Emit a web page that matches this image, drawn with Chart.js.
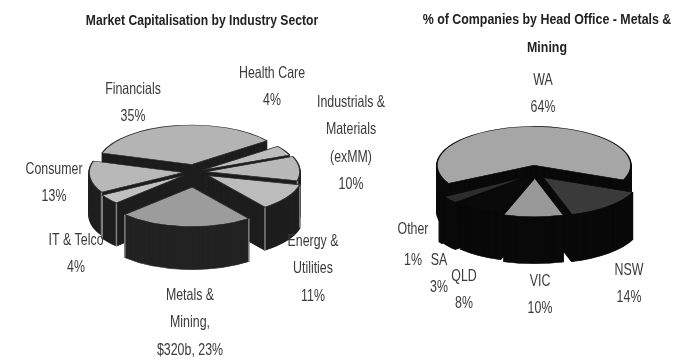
<!DOCTYPE html>
<html>
<head>
<meta charset="utf-8">
<script src="https://cdn.jsdelivr.net/npm/chart.js@4/dist/chart.umd.js"></script>
<style>
  html, body { margin: 0; background: #fff; overflow: hidden; }
  #page { position: relative; width: 677px; height: 362px; filter: blur(0.6px); }
  canvas { position: absolute; top: 0; }
</style>
</head>
<body>
<div id="page">
  <canvas id="sectorChart" width="390" height="362" style="left:0"></canvas>
  <canvas id="officeChart" width="287" height="362" style="left:390px"></canvas>
</div>
<script>
const sectorTitle = ['Market Capitalisation by Industry Sector'];
const sectorNames = [['Financials'], ['Health Care'], ['Industrials &', 'Materials', '(exMM)'], ['Energy &', 'Utilities'], ['Metals &', 'Mining,'], ['IT & Telco'], ['Consumer']];
const sectorShare = [35, 4, 10, 11, 23, 4, 13];
const sectorPrefix = ['', '', '', '', '$320b, ', '', ''];

const officeTitle = ['% of Companies by Head Office - Metals &', 'Mining'];
const officeNames = [['WA'], ['NSW'], ['VIC'], ['QLD'], ['SA'], ['Other']];
const officeShare = [64, 14, 10, 8, 3, 1];
const officePrefix = ['', '', '', '', '', ''];

const labelFont = '16.5px "Liberation Sans", sans-serif';
const titleFont = 'bold 15px "Liberation Sans", sans-serif';

// The reference text is a condensed face, so squeeze it sideways
function squeezedText(ctx, text, x, y, squeeze) {
  ctx.save();
  ctx.translate(x, y);
  ctx.scale(squeeze, 1);
  ctx.fillText(text, 0, 0);
  ctx.restore();
}

// Fakes the tilted 3D pie: each arc is squashed and stacked from the back to the front
function tiltedPie(cfg) {
  return {
    id: 'tiltedPie',
    beforeDatasetDraw(chart) {
      const ctx = chart.ctx;
      const arcs = chart.getDatasetMeta(0).data;
      const midOf = (a) => (a.startAngle + a.endAngle) / 2;
      const order = arcs.map((_, i) => i).sort((a, b) => Math.sin(midOf(arcs[a])) - Math.sin(midOf(arcs[b])));

      const face = (arc, x, y, fill, edge) => {
        const original = arc.options;
        arc.options = Object.create(original);
        arc.options.backgroundColor = fill;
        arc.options.borderColor = edge;
        ctx.save();
        ctx.translate(x, y);
        ctx.scale(1, cfg.tilt);
        ctx.translate(-arc.x, -arc.y);
        arc.draw(ctx);
        ctx.restore();
        arc.options = original;
      };

      order.forEach((i) => {
        const arc = arcs[i];
        const mid = midOf(arc);
        const x = cfg.x + Math.cos(mid) * cfg.explode[i];
        const y = cfg.y + Math.sin(mid) * cfg.explode[i] * cfg.tilt;

        for (let d = cfg.depth; d >= 1; d--) {
          face(arc, x, y + d, cfg.side[i], cfg.side[i]);
        }
        // Lighter corner lines where a slice wall meets the rim
        if (cfg.corner) {
          [arc.startAngle, arc.endAngle].forEach((a) => {
            if (Math.sin(a) < 0.1) return;
            const px = x + Math.cos(a) * arc.outerRadius;
            const py = y + Math.sin(a) * arc.outerRadius * cfg.tilt;
            ctx.strokeStyle = cfg.corner;
            ctx.lineWidth = 1.5;
            ctx.beginPath();
            ctx.moveTo(px, py);
            ctx.lineTo(px, py + cfg.depth);
            ctx.stroke();
          });
        }
        face(arc, x, y, arc.options.backgroundColor, arc.options.borderColor);
      });
      return false;
    },
    afterDraw(chart) {
      const ctx = chart.ctx;
      ctx.save();
      ctx.textAlign = 'center';
      ctx.textBaseline = 'middle';

      ctx.font = titleFont;
      ctx.fillStyle = '#222';
      cfg.title.forEach((text, n) => {
        squeezedText(ctx, text, cfg.titleX, cfg.titleY + n * 28, cfg.titleSqueeze);
      });

      ctx.font = labelFont;
      ctx.fillStyle = '#3a3a3a';
      cfg.names.forEach((name, i) => {
        const spot = cfg.spots[i];
        const lines = [...name, cfg.prefix[i] + cfg.share[i] + '%'];
        lines.forEach((text, n) => {
          squeezedText(ctx, text, spot.x, spot.y + n * (spot.gap || 27.5), 0.75);
        });
      });
      ctx.restore();
    }
  };
}

function makeChart(id, cfg) {
  return new Chart(document.getElementById(id), {
    type: 'pie',
    data: {
      labels: cfg.names.map((n) => n.join(' ')),
      datasets: [{
        data: cfg.share,
        backgroundColor: cfg.top,
        borderColor: cfg.border,
        borderWidth: 1.5
      }]
    },
    options: {
      responsive: false,
      animation: false,
      events: [],
      rotation: cfg.rotation,
      radius: cfg.radius,
      plugins: {
        legend: { display: false },
        tooltip: { enabled: false }
      }
    },
    plugins: [tiltedPie(cfg)]
  });
}

makeChart('sectorChart', {
  title: sectorTitle,
  titleX: 202,
  titleY: 21,
  titleSqueeze: 0.81,
  names: sectorNames,
  share: sectorShare,
  prefix: sectorPrefix,
  rotation: -73,
  radius: 94,
  x: 195,
  y: 172,
  tilt: 0.42,
  depth: 43,
  explode: [18, 9, 11, 16, 36, 14, 12],
  top: ['#b4b4b4', '#bcbcbc', '#b9b9b9', '#bcbcbc', '#9c9c9c', '#c0c0c0', '#b8b8b8'],
  border: '#2a2a2a',
  side: ['#1e1e1e', '#1e1e1e', '#1e1e1e', '#1e1e1e', '#232323', '#1e1e1e', '#1e1e1e'],
  corner: '#808080',
  spots: [
    { x: 133, y: 89 }, { x: 272, y: 73 }, { x: 351, y: 102 }, { x: 313, y: 241 },
    { x: 190, y: 295 }, { x: 76, y: 240 }, { x: 54, y: 169 }
  ]
});

makeChart('officeChart', {
  title: officeTitle,
  titleX: 157,
  titleY: 20,
  titleSqueeze: 0.826,
  names: officeNames,
  share: officeShare,
  prefix: officePrefix,
  rotation: -118,
  radius: 97,
  x: 145,
  y: 174,
  tilt: 0.4,
  depth: 47,
  explode: [22, 12, 10, 6, 10, 12],
  top: ['#a6a6a6', '#3a3a3a', '#999999', '#0a0a0a', '#2c2c2c', '#0a0a0a'],
  border: '#0a0a0a',
  side: ['#0a0a0a', '#0a0a0a', '#0a0a0a', '#0a0a0a', '#0a0a0a', '#0a0a0a'],
  spots: [
    { x: 153, y: 80 }, { x: 239, y: 270 }, { x: 150, y: 281 }, { x: 74, y: 276 },
    { x: 49, y: 260 }, { x: 23, y: 229, gap: 31 }
  ]
});
</script>
</body>
</html>
